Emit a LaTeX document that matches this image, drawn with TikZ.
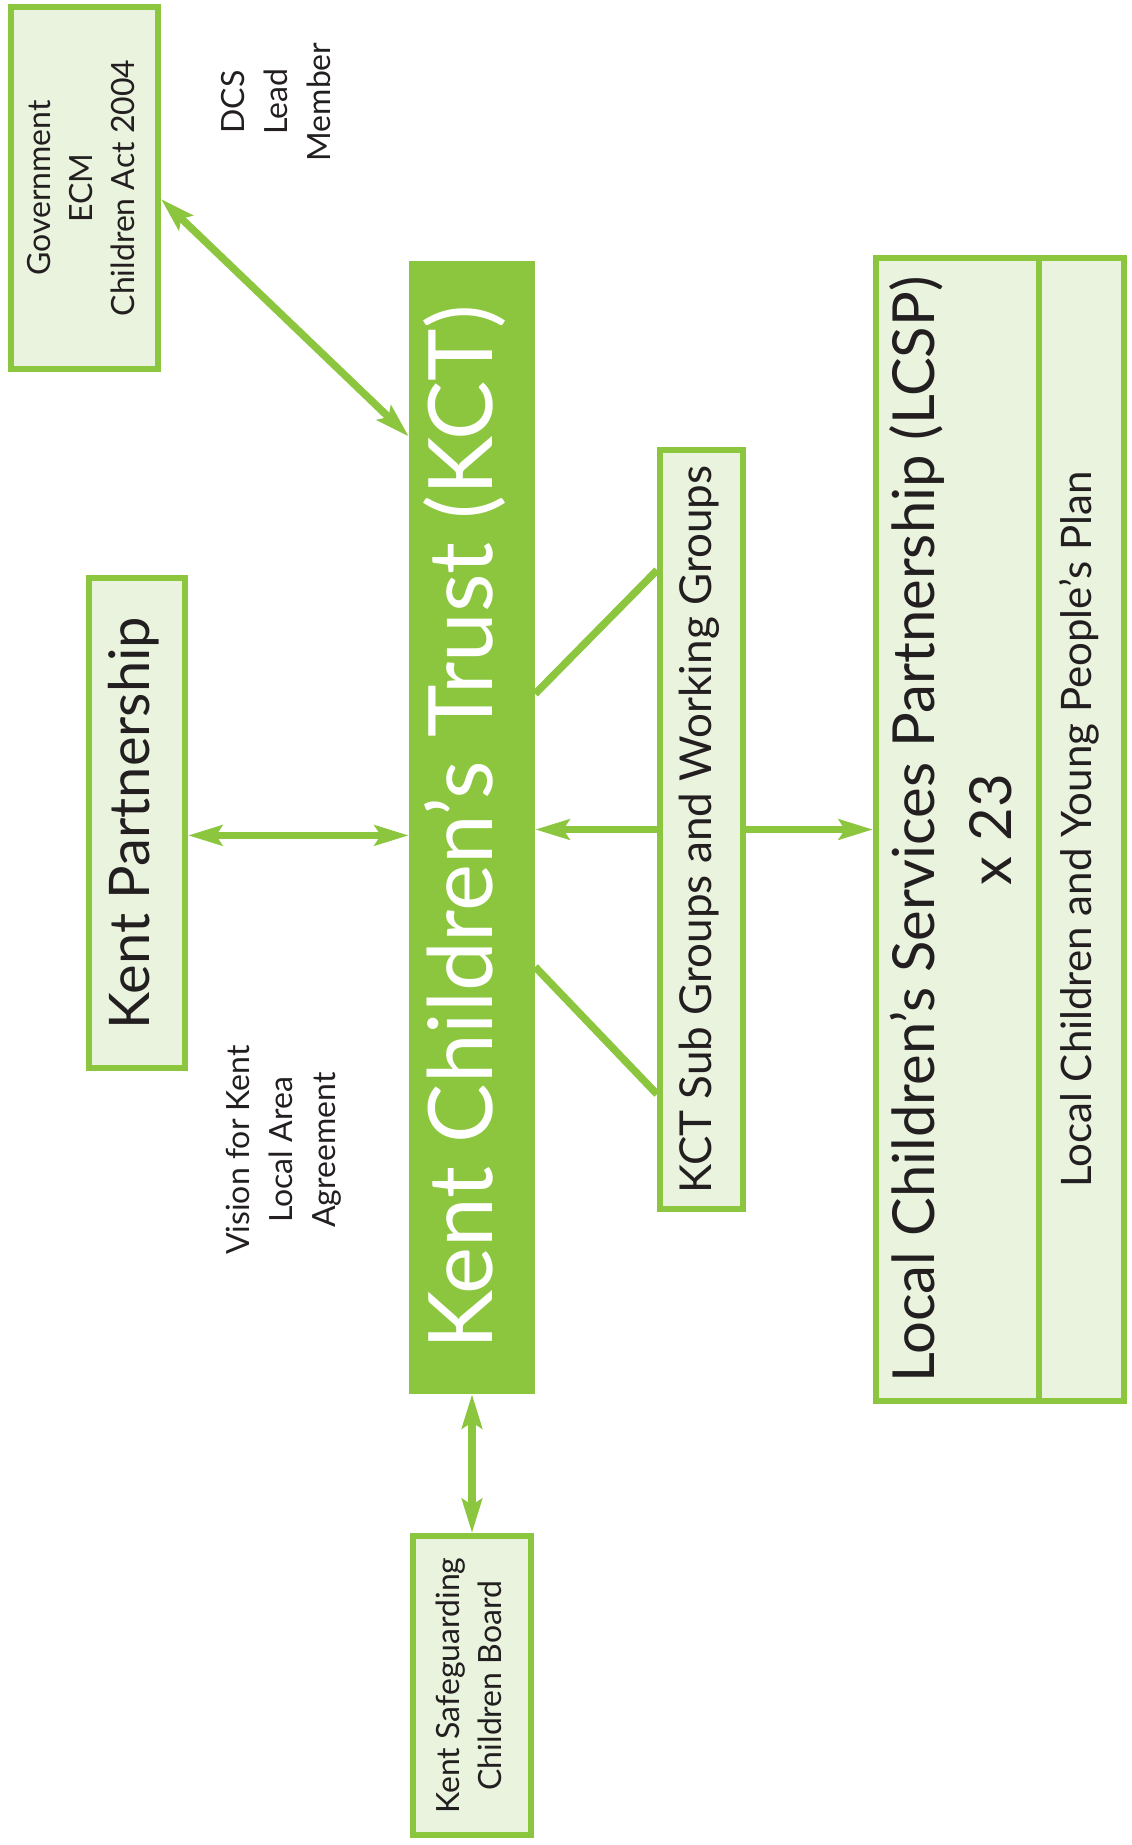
\documentclass[tikz,border=0pt]{standalone}
\usepackage{fontspec}
\setmainfont{Lato}
\usetikzlibrary{arrows.meta,positioning,calc}

\definecolor{kgreen}{HTML}{8CC63F}
\definecolor{klight}{HTML}{E9F3DE}
\definecolor{ktext}{HTML}{231F20}

\tikzstyle{box}=[draw=kgreen, line width=6pt, fill=klight, inner sep=0pt, text=ktext]
\tikzstyle{trust}=[fill=kgreen, inner sep=0pt, text=white]
\tikzstyle{note}=[inner sep=0pt, text=ktext]
\tikzstyle{conn}=[draw=kgreen, line width=7.5pt]
\newcommand{\uptext}[1]{\rotatebox{90}{\begin{tabular}{@{}c@{}}#1\end{tabular}}}
\newcommand{\kfont}[2]{\fontsize{#1}{#2}\selectfont}

\begin{document}
\begin{tikzpicture}[x=1pt, y=-1pt, >={Stealth[length=34pt,width=20pt,inset=6pt]}]
    \useasboundingbox (0,0) rectangle (1132,1845);
    % First the boxes, all text turned up the page
    \node[trust, minimum width=126pt, minimum height=1133pt, font=\kfont{89}{100}] (kct) at (472,827.5) {\uptext{Kent Children’s Trust (KCT)}};
    \node[box, minimum width=147pt, minimum height=362pt, font=\kfont{32}{42}] (gov) at (84.5,188) {\uptext{Government\\ECM\\Children Act 2004}};
    \node[box, minimum width=96pt, minimum height=490pt, font=\kfont{56}{60}] (kp) at (137,823) {\uptext{Kent Partnership}};
    \node[box, minimum width=83pt, minimum height=759pt, font=\kfont{44}{50}] (sub) at (701.5,829.5) {\uptext{KCT Sub Groups and Working Groups}};
    \node[box, minimum width=163pt, minimum height=1143pt, font=\kfont{58}{77}] (lcsp) at (957.5,829.5) {\uptext{Local Children’s Services Partnership (LCSP)\\x 23}};
    \node[box, minimum width=85pt, minimum height=1143pt, font=\kfont{42}{50}, right=-6pt of lcsp] (plan) {\uptext{Local Children and Young People’s Plan}};
    \node[box, minimum width=118pt, minimum height=299pt, font=\kfont{32}{42}] (kscb) at (472,1685.5) {\uptext{Kent Safeguarding\\Children Board}};
    % Free labels
    \node[note, font=\kfont{32}{43}] (dcs) at (279,102) {\uptext{DCS\\Lead\\Member}};
    \node[note, font=\kfont{32}{43}] (vision) at (284,1150) {\uptext{Vision for Kent\\Local Area\\Agreement}};
    % Connectors
    \coordinate (govA) at ($(gov.north east)!0.53!(gov.south east)$);
    \coordinate (kctA) at ($(kct.north west)!0.155!(kct.south west)$);
    \coordinate (kpA) at ($(kp.north east)!0.525!(kp.south east)$);
    \draw[conn, <->] (govA) -- (kctA);
    \draw[conn, <->] (kpA) -- (kpA -| kct.west);
    \draw[conn, ->] (sub.west) -- (sub.west -| kct.east);
    \draw[conn, ->] (sub.east) -- (sub.east -| lcsp.west);
    \draw[conn] ($(kct.north east)!0.382!(kct.south east)$) -- ($(sub.north west)!0.161!(sub.south west)$);
    \draw[conn] ($(kct.north east)!0.623!(kct.south east)$) -- ($(sub.north west)!0.846!(sub.south west)$);
    \draw[conn, <->] (kct.south) -- (kscb.north);
\end{tikzpicture}
\end{document}
